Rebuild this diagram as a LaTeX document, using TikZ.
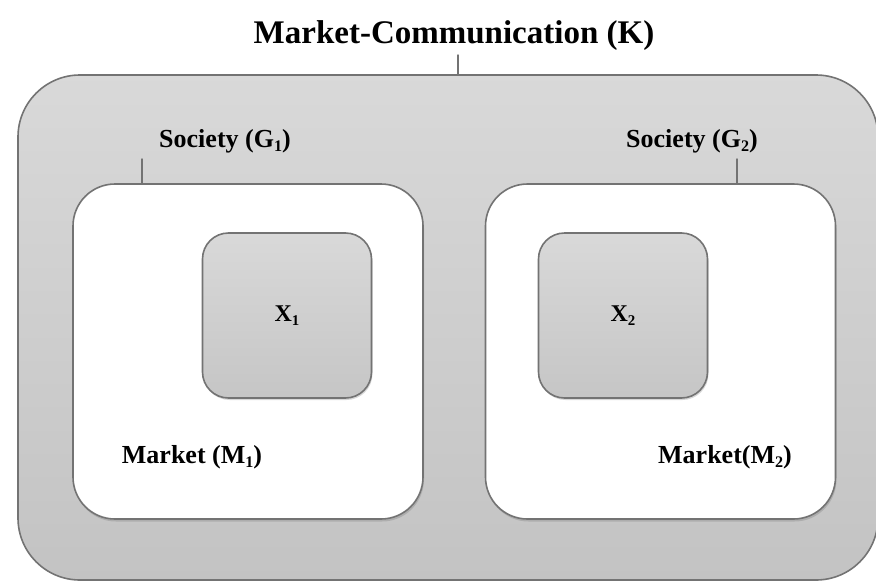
\documentclass[tikz,border=0pt]{standalone}
\usepackage{fontspec}
\setmainfont{Liberation Serif}
\usetikzlibrary{positioning,calc,shadows}
\newcommand{\lowsub}[1]{\raisebox{-0.35ex}{\scalebox{0.62}{#1}}}

\begin{document}
\begin{tikzpicture}[
        x=1pt, y=-1pt, line join=round, line cap=round,
        commbox/.style={draw=gray!90!black, line width=1.6pt, rounded corners=62pt,
            top color=gray!30, bottom color=gray!47, inner sep=0pt},
        socbox/.style={draw=gray!90!black, line width=1.6pt, rounded corners=42pt, fill=white,
            minimum width=350pt, minimum height=335pt, inner sep=0pt,
            drop shadow={opacity=0.35, shadow xshift=1pt, shadow yshift=-2.5pt}},
        xbox/.style={draw=gray!90!black, line width=1.6pt, rounded corners=26pt,
            top color=gray!30, bottom color=gray!45,
            minimum width=169pt, minimum height=165pt, inner sep=0pt,
            drop shadow={opacity=0.3, shadow xshift=1pt, shadow yshift=-2pt},
            font=\fontsize{24}{28}\selectfont\bfseries},
        lbl/.style={font=\fontsize{26}{30}\selectfont\bfseries, inner sep=1pt, anchor=base},
        tick/.style={draw=gray!90!black, line width=1.4pt}
      ]
      \useasboundingbox (0,0) rectangle (876,581);

      % ---- outer box ----
      \node[commbox, minimum width=860pt, minimum height=505pt] (comm) at (448,327.5) {};
      \node[lbl, font=\fontsize{33}{38}\selectfont\bfseries] (klbl) at (454,43) {Market-Communication (K)};

      % ---- societies ----
      \node[socbox] (soc1) at (248,351.5) {};
      \node[socbox] (soc2) at (660.5,351.5) {};
      \node[lbl] (glbl1) at (225,147) {Society (G\lowsub{1})};
      \node[lbl] (glbl2) at (692,147) {Society (G\lowsub{2})};

      % ---- markets ----
      \node[xbox] (x1) at (287,315.5) {X\lowsub{1}};
      \node[xbox] (x2) at (623,315.5) {X\lowsub{2}};
      \node[lbl] (mlbl1) at (192,463) {Market (M\lowsub{1})};
      \node[lbl] (mlbl2) at (725,463) {Market(M\lowsub{2})};

      % ---- ticks ----
      \coordinate (t0) at (458,55);
      \coordinate (t1) at (142,159);
      \coordinate (t2) at (737,159);
      \draw[tick] (t0) -- (t0 |- comm.north);
      \draw[tick] (t1) -- (t1 |- soc1.north);
      \draw[tick] (t2) -- (t2 |- soc2.north);

\end{tikzpicture}
\end{document}
